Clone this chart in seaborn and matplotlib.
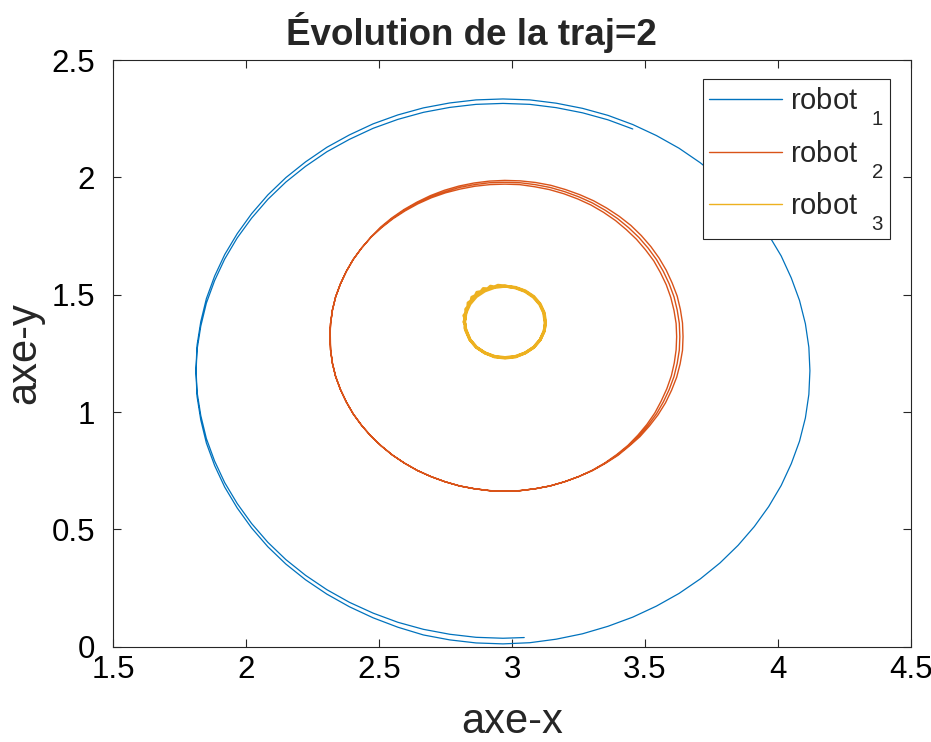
import matplotlib
matplotlib.use("Agg")
import matplotlib.pyplot as plt
from matplotlib.lines import Line2D
import seaborn as sns
import pandas as pd

# Robot 1 trajectory (blue): almost two turns, slowly drifting downward
robot1_x = [3.046, 2.966, 2.865, 2.766, 2.667, 2.571, 2.478, 2.389, 2.304, 2.224,
            2.150, 2.082, 2.021, 1.967, 1.920, 1.882, 1.851, 1.830, 1.816, 1.812,
            1.816, 1.830, 1.851, 1.882, 1.920, 1.967, 2.021, 2.082, 2.150, 2.224,
            2.304, 2.389, 2.478, 2.571, 2.667, 2.766, 2.865, 2.966,
            3.067, 3.166, 3.265, 3.361, 3.454, 3.543, 3.628, 3.708, 3.782, 3.850,
            3.911, 3.965, 4.012, 4.050, 4.081, 4.103, 4.116, 4.120,
            4.116, 4.103, 4.081, 4.050, 4.012, 3.965, 3.911, 3.850, 3.782, 3.708,
            3.628, 3.543, 3.454, 3.361, 3.265, 3.166, 3.067, 2.966,
            2.865, 2.766, 2.667, 2.571, 2.478, 2.389, 2.304, 2.224, 2.150, 2.082,
            2.021, 1.967, 1.920, 1.882, 1.851, 1.830, 1.816, 1.812,
            1.816, 1.830, 1.851, 1.882, 1.920, 1.967, 2.021, 2.082, 2.150, 2.224,
            2.304, 2.389, 2.478, 2.571, 2.667, 2.766, 2.865, 2.966,
            3.067, 3.166, 3.265, 3.361, 3.454]
robot1_y = [0.039, 0.036, 0.040, 0.053, 0.074, 0.104, 0.143, 0.189, 0.243, 0.304,
            0.371, 0.445, 0.525, 0.610, 0.699, 0.791, 0.887, 0.985, 1.085, 1.185,
            1.285, 1.385, 1.483, 1.579, 1.671, 1.760, 1.845, 1.925, 1.999, 2.066,
            2.128, 2.181, 2.228, 2.266, 2.296, 2.317, 2.330, 2.334,
            2.330, 2.316, 2.294, 2.264, 2.225, 2.178, 2.124, 2.062, 1.994, 1.920,
            1.839, 1.754, 1.665, 1.571, 1.475, 1.376, 1.276, 1.176,
            1.075, 0.975, 0.876, 0.780, 0.687, 0.597, 0.512, 0.432, 0.357, 0.289,
            0.227, 0.173, 0.126, 0.087, 0.055, 0.032, 0.017, 0.012,
            0.016, 0.029, 0.050, 0.083, 0.123, 0.170, 0.224, 0.285, 0.352, 0.426,
            0.506, 0.591, 0.680, 0.772, 0.868, 0.966, 1.066, 1.166,
            1.266, 1.366, 1.464, 1.560, 1.652, 1.742, 1.826, 1.906, 1.980, 2.047,
            2.109, 2.162, 2.209, 2.247, 2.277, 2.298, 2.311, 2.315,
            2.311, 2.297, 2.275, 2.245, 2.206]

# Robot 2 trajectory (red): three turns, strands spreading on the right side
robot2_x = [
    # turn 1
    2.315, 2.318, 2.325, 2.337, 2.355, 2.377, 2.403, 2.434, 2.469,
    2.509, 2.552, 2.598, 2.646, 2.697, 2.750, 2.805, 2.860, 2.917, 2.973,
    3.029, 3.085, 3.140, 3.195, 3.247, 3.297, 3.344, 3.389, 3.430, 3.468,
    3.502, 3.533, 3.558, 3.580, 3.597, 3.609, 3.617, 3.619, 3.617, 3.610,
    3.599, 3.582, 3.561, 3.537, 3.507, 3.473, 3.436, 3.394, 3.349, 3.302,
    3.251, 3.198, 3.143, 3.087, 3.030, 2.973, 2.916, 2.859, 2.803, 2.748,
    2.695, 2.644, 2.596, 2.550, 2.508, 2.469, 2.434, 2.403, 2.377, 2.355,
    2.337, 2.325, 2.318, 2.315,
    # turn 2
    2.318, 2.325, 2.337, 2.355, 2.377, 2.403, 2.434, 2.469,
    2.508, 2.550, 2.596, 2.644, 2.695, 2.748, 2.803, 2.859, 2.916, 2.973,
    3.030, 3.087, 3.143, 3.198, 3.251, 3.302, 3.350, 3.396, 3.438, 3.477,
    3.512, 3.543, 3.569, 3.591, 3.609, 3.621, 3.629, 3.631, 3.629, 3.621,
    3.609, 3.591, 3.569, 3.543, 3.512, 3.477, 3.438, 3.396, 3.350, 3.302,
    3.251, 3.198, 3.143, 3.087, 3.030, 2.973, 2.916, 2.859, 2.803, 2.748,
    2.695, 2.644, 2.596, 2.550, 2.508, 2.469, 2.434, 2.403, 2.377, 2.355,
    2.337, 2.325, 2.318, 2.316,
    # turn 3
    2.318, 2.325, 2.337, 2.355, 2.377, 2.403, 2.434, 2.469,
    2.506, 2.548, 2.594, 2.642, 2.693, 2.746, 2.801, 2.858, 2.915, 2.973,
    3.031, 3.089, 3.146, 3.201, 3.255, 3.307, 3.356, 3.403, 3.447, 3.486,
    3.522, 3.553, 3.580, 3.602, 3.621, 3.633, 3.641, 3.643, 3.641, 3.632,
    3.619, 3.600, 3.577, 3.549, 3.517, 3.481, 3.440, 3.398, 3.351, 3.302,
    3.251, 3.198, 3.143, 3.087, 3.030, 2.973, 2.916, 2.859, 2.803, 2.748,
    2.695, 2.644, 2.596, 2.550, 2.508, 2.469, 2.434, 2.403, 2.377, 2.355,
    2.337, 2.325, 2.318, 2.317]
robot2_y = [
    # turn 1
    1.321, 1.378, 1.435, 1.491, 1.546, 1.599, 1.650, 1.698, 1.744,
    1.785, 1.823, 1.857, 1.887, 1.913, 1.934, 1.950, 1.962, 1.969, 1.971,
    1.969, 1.960, 1.948, 1.930, 1.908, 1.882, 1.851, 1.816, 1.777, 1.736,
    1.691, 1.644, 1.594, 1.542, 1.488, 1.433, 1.377, 1.321, 1.265, 1.209,
    1.154, 1.099, 1.047, 0.996, 0.947, 0.901, 0.858, 0.819, 0.783, 0.752,
    0.725, 0.703, 0.685, 0.673, 0.665, 0.663, 0.665, 0.673, 0.685, 0.703,
    0.725, 0.751, 0.782, 0.817, 0.856, 0.898, 0.944, 0.992, 1.043, 1.096,
    1.151, 1.207, 1.264, 1.321,
    # turn 2
    1.378, 1.435, 1.491, 1.546, 1.599, 1.650, 1.698, 1.744,
    1.786, 1.825, 1.860, 1.891, 1.917, 1.939, 1.957, 1.969, 1.977, 1.979,
    1.977, 1.969, 1.957, 1.939, 1.917, 1.891, 1.860, 1.825, 1.786, 1.744,
    1.698, 1.650, 1.599, 1.546, 1.491, 1.435, 1.378, 1.321, 1.264, 1.207,
    1.151, 1.096, 1.043, 0.992, 0.944, 0.898, 0.856, 0.817, 0.782, 0.751,
    0.725, 0.703, 0.685, 0.673, 0.665, 0.663, 0.665, 0.673, 0.685, 0.703,
    0.725, 0.751, 0.782, 0.817, 0.856, 0.898, 0.944, 0.992, 1.043, 1.096,
    1.151, 1.207, 1.264, 1.321,
    # turn 3
    1.378, 1.435, 1.491, 1.546, 1.599, 1.650, 1.698, 1.744,
    1.788, 1.827, 1.863, 1.894, 1.922, 1.945, 1.963, 1.976, 1.984, 1.987,
    1.985, 1.978, 1.966, 1.948, 1.926, 1.900, 1.869, 1.834, 1.795, 1.752,
    1.705, 1.656, 1.604, 1.550, 1.494, 1.437, 1.379, 1.321, 1.263, 1.205,
    1.148, 1.093, 1.039, 0.988, 0.941, 0.895, 0.854, 0.815, 0.781, 0.750,
    0.725, 0.703, 0.685, 0.673, 0.665, 0.663, 0.665, 0.673, 0.685, 0.703,
    0.725, 0.751, 0.782, 0.817, 0.856, 0.898, 0.944, 0.992, 1.043, 1.096,
    1.151, 1.207, 1.264, 1.321]

# Robot 3 trajectory (yellow): small loop, jittery on the upper-left arc
robot3_x = [3.126, 3.121, 3.106, 3.082, 3.050, 3.013, 2.974, 2.935, 2.898, 2.866,
            2.842, 2.827, 2.822, 2.827, 2.842, 2.866, 2.898, 2.935, 2.974, 3.013,
            3.050, 3.082, 3.106, 3.121, 3.126,
            3.124, 3.119, 3.104, 3.080, 3.049, 3.013, 2.974, 2.947, 2.934, 2.919,
            2.908, 2.892, 2.883, 2.868, 2.862, 2.849, 2.846, 2.835, 2.834, 2.826,
            2.827, 2.819, 2.824, 2.819, 2.825, 2.823, 2.829, 2.842, 2.866, 2.898,
            2.934, 2.974, 3.014, 3.050, 3.082, 3.106, 3.121, 3.126]
robot3_y = [1.384, 1.423, 1.460, 1.492, 1.516, 1.531, 1.536, 1.531, 1.516, 1.492,
            1.460, 1.423, 1.384, 1.345, 1.308, 1.276, 1.252, 1.237, 1.232, 1.237,
            1.252, 1.276, 1.308, 1.345, 1.384,
            1.384, 1.423, 1.459, 1.490, 1.514, 1.529, 1.537, 1.540, 1.533, 1.536,
            1.525, 1.526, 1.513, 1.510, 1.496, 1.489, 1.474, 1.465, 1.449, 1.438,
            1.423, 1.411, 1.397, 1.384, 1.371, 1.357, 1.345, 1.308, 1.276, 1.252,
            1.235, 1.230, 1.235, 1.252, 1.276, 1.308, 1.345, 1.384]

robot_names = [r"robot $\;_1$", r"robot $\;_2$", r"robot $\;_3$"]
robot_colors = ["#0072BD", "#D95319", "#EDB120"]
robot_widths = [0.9, 1.0, 2.2]

x_ticks = [1.5, 2.0, 2.5, 3.0, 3.5, 4.0, 4.5]
x_tick_labels = ["1.5", "2", "2.5", "3", "3.5", "4", "4.5"]
y_ticks = [0.0, 0.5, 1.0, 1.5, 2.0, 2.5]
y_tick_labels = ["0", "0.5", "1", "1.5", "2", "2.5"]

sns.set_style("white")
plt.rcParams["font.family"] = ["Liberation Sans", "DejaVu Sans"]
plt.rcParams["mathtext.fontset"] = "custom"
plt.rcParams["mathtext.rm"] = "Liberation Sans"
plt.rcParams["mathtext.it"] = "Liberation Sans:italic"
plt.rcParams["mathtext.bf"] = "Liberation Sans:bold"
plt.rcParams["mathtext.default"] = "regular"

# deeper subscripts in the legend labels
try:
    import matplotlib._mathtext as _mathtext
    _mathtext.FontConstantsBase.sub1 = 1.05
except Exception:
    pass

ink = "#262626"

fig = plt.figure(figsize=(9.31, 7.42), dpi=100)
ax = fig.add_axes([113 / 931, 1 - 646.7 / 742, 798 / 931, 586.7 / 742])

trajectories = [(robot1_x, robot1_y), (robot2_x, robot2_y), (robot3_x, robot3_y)]
for (xs, ys), col, lw in zip(trajectories, robot_colors, robot_widths):
    df = pd.DataFrame({"x": xs, "y": ys})
    sns.lineplot(data=df, x="x", y="y", sort=False, estimator=None,
                 color=col, linewidth=lw, ax=ax, legend=False)

ax.set_xlim(x_ticks[0], x_ticks[-1])
ax.set_ylim(y_ticks[0], y_ticks[-1])
ax.set_xticks(x_ticks)
ax.set_xticklabels(x_tick_labels)
ax.set_yticks(y_ticks)
ax.set_yticklabels(y_tick_labels)

ax.tick_params(axis="both", which="both", direction="in", length=6, width=0.8,
               color=ink, labelcolor="black", labelsize=22.5,
               top=True, right=True, bottom=True, left=True)
ax.tick_params(axis="x", pad=6)
ax.tick_params(axis="y", pad=13)
for sp in ax.spines.values():
    sp.set_visible(True)
    sp.set_color(ink)
    sp.set_linewidth(0.8)

ax.set_xlabel("axe-x", fontsize=30, labelpad=12)
ax.set_ylabel("axe-y", fontsize=30, labelpad=5)
ax.set_title("Évolution de la traj=2", fontsize=26.5, fontweight="bold",
             x=0.449, pad=11)

handles = [Line2D([], [], color=c, linewidth=1.0) for c in robot_colors]
leg = ax.legend(handles, robot_names, loc="upper right",
                bbox_to_anchor=(890 / 931, 1 - 79 / 742),
                bbox_transform=fig.transFigure, borderaxespad=0,
                fontsize=21, frameon=True, fancybox=False, framealpha=1,
                edgecolor=ink, handlelength=2.5, handletextpad=0.25,
                labelspacing=0.33, borderpad=0.22)
leg.get_frame().set_linewidth(0.8)

fig.savefig("out.png", dpi=100)
